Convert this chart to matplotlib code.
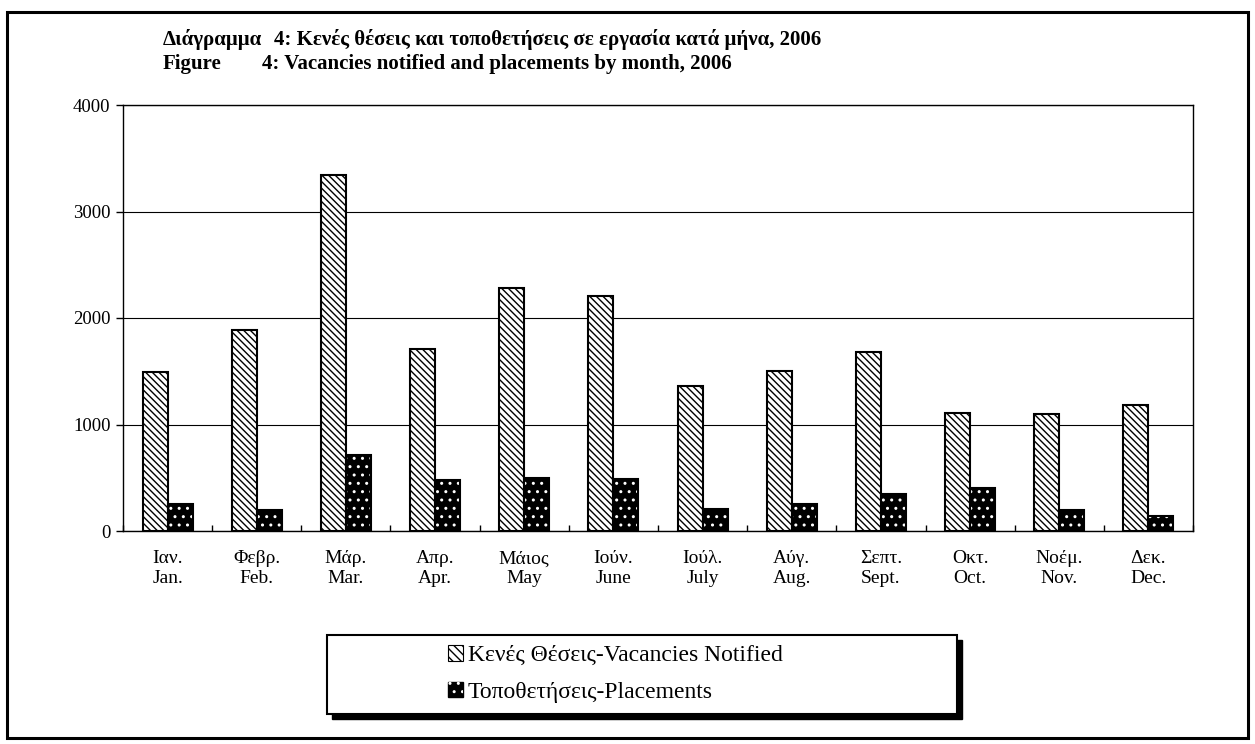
import numpy as np
import matplotlib
matplotlib.use("Agg")
import matplotlib.pyplot as plt
from matplotlib.patches import Rectangle, Patch

plt.rcParams['font.family'] = ['Liberation Serif', 'DejaVu Serif']
plt.rcParams['hatch.linewidth'] = 1.0

# data
months_gr = ['Ιαν.', 'Φεβρ.', 'Μάρ.', 'Απρ.', 'Μάιος', 'Ιούν.',
             'Ιούλ.', 'Αύγ.', 'Σεπτ.', 'Οκτ.', 'Νοέμ.', 'Δεκ.']
months_en = ['Jan.', 'Feb.', 'Mar.', 'Apr.', 'May', 'June',
             'July', 'Aug.', 'Sept.', 'Oct.', 'Nov.', 'Dec.']
vacancies = [1490, 1885, 3345, 1710, 2285, 2210, 1360, 1500, 1680, 1110, 1095, 1180]
placements = [250, 195, 715, 480, 500, 490, 210, 255, 350, 405, 195, 140]

W, H = 1255, 744
fig = plt.figure(figsize=(W / 100, H / 100), dpi=100)

# outer frame
fig.patches.append(Rectangle((7 / W, 1 - 738 / H), (1248 - 7) / W, (738 - 12) / H,
                             transform=fig.transFigure, fill=False,
                             edgecolor='black', linewidth=2.2))

# titles
tfs = 15
fig.text(163 / W, 1 - 40 / H, 'Διάγραμμα', fontsize=tfs, fontweight='bold', va='center')
fig.text(274 / W, 1 - 40 / H, '4: Κενές θέσεις και τοποθετήσεις σε εργασία κατά μήνα, 2006',
         fontsize=tfs, fontweight='bold', va='center')
fig.text(163 / W, 1 - 64 / H, 'Figure', fontsize=tfs, fontweight='bold', va='center')
fig.text(262 / W, 1 - 64 / H, '4: Vacancies notified and placements by month, 2006',
         fontsize=tfs, fontweight='bold', va='center')

ax = fig.add_axes([123 / W, 1 - 531 / H, (1193 - 123) / W, (531 - 105) / H])
x = np.arange(len(months_en))
bw = 0.28

ax.bar(x - bw / 2, vacancies, bw, facecolor='white', edgecolor='black',
       hatch='\\\\\\\\\\', linewidth=1.5, zorder=3)
ax.bar(x + bw / 2, placements, bw, facecolor='black', edgecolor='black',
       linewidth=0, zorder=3)
ax.bar(x + bw / 2, placements, bw, facecolor='none', edgecolor='white',
       hatch='..', linewidth=0, zorder=4)
ax.bar(x + bw / 2, placements, bw, facecolor='none', edgecolor='black',
       linewidth=1.5, zorder=5)

ax.set_xlim(-0.5, 11.5)
ax.set_ylim(0, 4000)
ax.set_yticks([0, 1000, 2000, 3000, 4000])
ax.yaxis.grid(True, color='black', linewidth=0.8)
ax.set_axisbelow(True)
ax.set_xticks(x)
ax.set_xticklabels([g + '\n' + e for g, e in zip(months_gr, months_en)],
                   fontsize=14, linespacing=1.2)
ax.set_xticks(np.arange(-0.5, 12, 1), minor=True)
ax.tick_params(axis='x', which='major', length=0, pad=14)
ax.tick_params(axis='x', which='minor', direction='in', length=4, width=1)
ax.tick_params(axis='y', direction='out', length=5, width=1, labelsize=13.5, pad=4)
for s in ax.spines.values():
    s.set_linewidth(1)
    s.set_color('black')

# legend box with shadow
lx0, ly0, lx1, ly1 = 327, 635, 957, 714
sh = 5
fig.patches.append(Rectangle(((lx0 + sh) / W, 1 - (ly1 + sh) / H), (lx1 - lx0) / W,
                             (ly1 - ly0) / H, transform=fig.transFigure,
                             facecolor='black', edgecolor='black'))
fig.patches.append(Rectangle((lx0 / W, 1 - ly1 / H), (lx1 - lx0) / W, (ly1 - ly0) / H,
                             transform=fig.transFigure, facecolor='white',
                             edgecolor='black', linewidth=1.5))

h_vac = Patch(facecolor='white', edgecolor='black', hatch='\\\\\\\\', linewidth=0.8)
h_pl = (Patch(facecolor='black', edgecolor='black'),
        Patch(facecolor='none', edgecolor='white', hatch='..', linewidth=0))
fig.legend([h_vac, h_pl], ['Κενές Θέσεις-Vacancies Notified', 'Τοποθετήσεις-Placements'],
           loc='center left', bbox_to_anchor=(436 / W, 1 - 674 / H), frameon=False,
           fontsize=17, handlelength=0.65, handleheight=0.65, handletextpad=0.2,
           labelspacing=0.65, borderpad=0)

fig.savefig('out.png', dpi=100)
